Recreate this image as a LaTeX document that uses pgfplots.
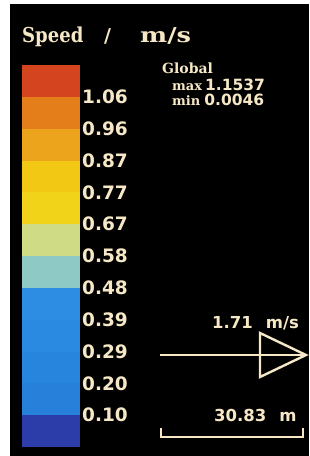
\documentclass[border=0pt]{standalone}
\usepackage{pgfplots}
\pgfplotsset{compat=1.18}
\usepackage{graphicx}
\usepackage{fontspec}
\setmainfont{DejaVu Sans}
\newfontfamily\serifb{DejaVu Serif}
\definecolor{cream}{HTML}{F6E8C6}
\definecolor{b1}{HTML}{D4441E}
\definecolor{b2}{HTML}{E47E1A}
\definecolor{b3}{HTML}{EBA41B}
\definecolor{b4}{HTML}{F2C815}
\definecolor{b5}{HTML}{F1D419}
\definecolor{b6}{HTML}{CFDB85}
\definecolor{b7}{HTML}{8EC9C6}
\definecolor{b8}{HTML}{2D8DE2}
\definecolor{b9}{HTML}{2A89E0}
\definecolor{b10}{HTML}{2885DD}
\definecolor{b11}{HTML}{2780D9}
\definecolor{b12}{HTML}{2C3DAA}
\begin{document}
\begin{tikzpicture}
\begin{axis}[
  scale only axis, width=309pt, height=456pt,
  xmin=0, xmax=309, ymin=0, ymax=456, y dir=reverse,
  axis lines=none, clip=false,
]
% background
\addplot[fill=white, draw=none] coordinates {(0,0) (309,0) (309,456) (0,456)} --cycle;
\addplot[fill=black, draw=none] coordinates {(10,4) (309,4) (309,456) (10,456)} --cycle;
% colour bands (top y, bottom y)
\addplot[fill=b1, draw=none] coordinates {(22,65.0) (80,65.0) (80,96.8) (22,96.8)} --cycle;
\addplot[fill=b2, draw=none] coordinates {(22,96.8) (80,96.8) (80,128.7) (22,128.7)} --cycle;
\addplot[fill=b3, draw=none] coordinates {(22,128.7) (80,128.7) (80,160.5) (22,160.5)} --cycle;
\addplot[fill=b4, draw=none] coordinates {(22,160.5) (80,160.5) (80,192.3) (22,192.3)} --cycle;
\addplot[fill=b5, draw=none] coordinates {(22,192.3) (80,192.3) (80,224.2) (22,224.2)} --cycle;
\addplot[fill=b6, draw=none] coordinates {(22,224.2) (80,224.2) (80,256.0) (22,256.0)} --cycle;
\addplot[fill=b7, draw=none] coordinates {(22,256.0) (80,256.0) (80,287.8) (22,287.8)} --cycle;
\addplot[fill=b8, draw=none] coordinates {(22,287.8) (80,287.8) (80,319.7) (22,319.7)} --cycle;
\addplot[fill=b9, draw=none] coordinates {(22,319.7) (80,319.7) (80,351.5) (22,351.5)} --cycle;
\addplot[fill=b10, draw=none] coordinates {(22,351.5) (80,351.5) (80,383.3) (22,383.3)} --cycle;
\addplot[fill=b11, draw=none] coordinates {(22,383.3) (80,383.3) (80,415.2) (22,415.2)} --cycle;
\addplot[fill=b12, draw=none] coordinates {(22,415.2) (80,415.2) (80,447.0) (22,447.0)} --cycle;
% labels
\begin{scope}[every node/.style={anchor=west, text=cream, inner sep=0pt, font=\fontsize{18.5}{20}\selectfont\bfseries}]
\node at (axis cs:82,96.8) {1.06};
\node at (axis cs:82,128.7) {0.96};
\node at (axis cs:82,160.5) {0.87};
\node at (axis cs:82,192.3) {0.77};
\node at (axis cs:82,224.2) {0.67};
\node at (axis cs:82,256.0) {0.58};
\node at (axis cs:82,287.8) {0.48};
\node at (axis cs:82,319.7) {0.39};
\node at (axis cs:82,351.5) {0.29};
\node at (axis cs:82,383.3) {0.20};
\node at (axis cs:82,415.2) {0.10};
\end{scope}
% title
\node[anchor=base west, text=cream, inner sep=0pt, font=\serifb\fontsize{19}{21}\selectfont\bfseries] at (axis cs:22,42) {\makebox[82pt][l]{\scalebox{0.95}[1.08]{Speed}}\makebox[36pt][l]{/}\scalebox{1.35}[1.08]{m/s}};
% global info
\node[anchor=base west, text=cream, inner sep=0pt, font=\serifb\fontsize{14}{16}\selectfont\bfseries] at (axis cs:162,73) {Global};
\node[anchor=base west, text=cream, inner sep=0pt] at (axis cs:172,90) {{\serifb\fontsize{13}{14}\selectfont\bfseries max}\hspace{3pt}{\fontsize{15.5}{16}\selectfont\bfseries 1.1537}};
\node[anchor=base west, text=cream, inner sep=0pt] at (axis cs:172,105) {{\serifb\fontsize{13}{14}\selectfont\bfseries min}\hspace{4pt}{\fontsize{15.5}{16}\selectfont\bfseries 0.0046}};
% vector reference
\node[anchor=base west, text=cream, inner sep=0pt, font=\fontsize{16.5}{18}\selectfont\bfseries] at (axis cs:212,328) {1.71\hspace{13pt}m/s};
\addplot[cream, line width=2.4pt] coordinates {(160,355) (306,355)};
\addplot[cream, line width=2.4pt, line join=miter] coordinates {(260,333) (306,355) (260,377)} --cycle;
% length scale
\node[anchor=base west, text=cream, inner sep=0pt, font=\fontsize{16.5}{18}\selectfont\bfseries] at (axis cs:214,421) {30.83\hspace{13pt}m};
\addplot[cream, line width=2.4pt] coordinates {(161,428) (161,437) (303,437) (303,428)};
\end{axis}
\end{tikzpicture}
\end{document}
